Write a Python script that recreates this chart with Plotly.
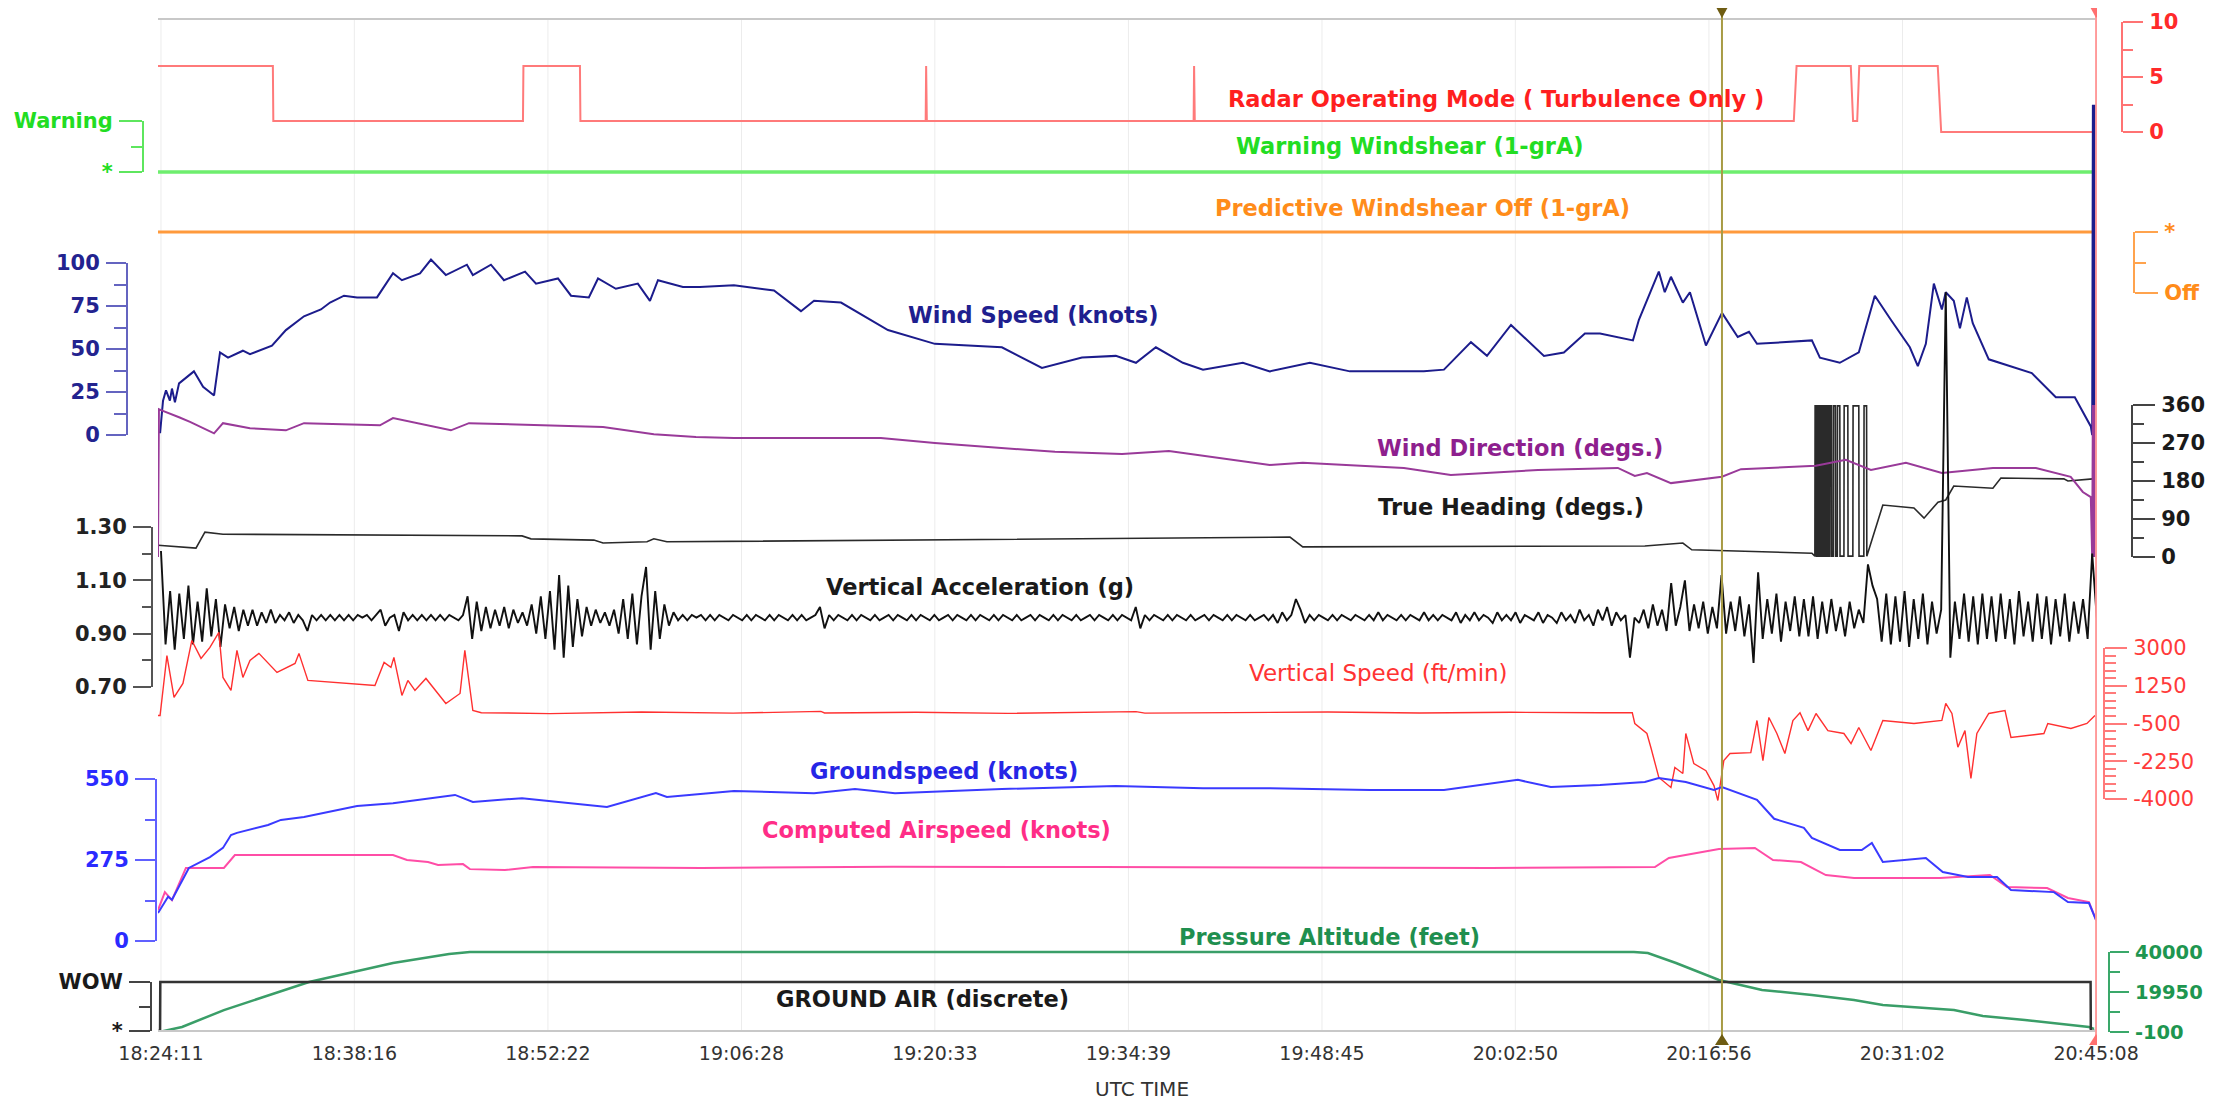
import plotly.graph_objects as go

# ---------------------------------------------------------------- data
START = "18:24:11"
x_tick_labels = ["18:24:11", "18:38:16", "18:52:22", "19:06:28", "19:20:33", "19:34:39",
                 "19:48:45", "20:02:50", "20:16:56", "20:31:02", "20:45:08"]

def hms_to_s(s):
    h, m, sec = map(int, s.split(":"))
    return h * 3600 + m * 60 + sec

x_tick_vals = [hms_to_s(s) - hms_to_s(START) for s in x_tick_labels]
cursor_times = [hms_to_s("20:17:53") - hms_to_s(START), hms_to_s("20:45:08") - hms_to_s(START)]

# x values: seconds elapsed since 18:24:11 (UTC)
radar_t = [-13, 489, 491, 1582, 1584, 1831, 1833, 3342, 3344, 3347, 4513, 4515, 4518,
           7136, 7148, 7385, 7395, 7413, 7422, 7765, 7780, 8444]
radar_v = [6, 6, 1, 1, 6, 6, 1, 1, 6, 1, 1, 6, 1, 1, 6, 6, 1, 1, 6, 6, 0, 0]

warn_t = [-13, 8444]
warn_v = [0, 0]

pws_t = [-13, 8444]
pws_v = [1, 1]

wind_spd_t = [-4, 9, 22, 39, 48, 61, 79, 144, 184, 232, 258, 293, 358, 389, 485, 546, 625, 699, 739,
              800, 857, 944, 1014, 1053, 1132, 1180, 1245, 1337, 1363, 1442, 1499, 1591, 1639, 1735,
              1792, 1870, 1910, 1988, 2084, 2137, 2172, 2281, 2355, 2504, 2679, 2797, 2854, 2972, 3177,
              3382, 3675, 3850, 4025, 4173, 4261, 4348, 4466, 4554, 4728, 4846, 5021, 5196, 5519, 5607,
              5725, 5795, 5900, 6044, 6131, 6223, 6289, 6433, 6459, 6546, 6572, 6599, 6651, 6682, 6752,
              6822, 6891, 6940, 6975, 7215, 7250, 7337, 7420, 7490, 7560, 7643, 7678, 7713, 7748, 7783,
              7800, 7835, 7862, 7892, 7918, 7988, 8176, 8281, 8364, 8434, 8440, 8443, 8446, 8449, 8452,
              8455]
wind_spd = [1, 20, 26, 20, 27, 19, 30, 37, 28, 23, 48, 45, 49, 47, 52, 61, 69, 73, 77,
            81, 80, 80, 94, 90, 94, 102, 93, 99, 93, 99, 90, 95, 88, 91,
            81, 80, 91, 85, 88, 78, 90, 86, 86, 87, 84, 72, 78, 77, 61,
            53, 51, 39, 45, 46, 42, 51, 42, 38, 42, 37, 42, 37, 37, 38,
            54, 46, 64, 46, 48, 59, 59, 55, 67, 95, 83, 92, 77, 83, 52,
            71, 57, 60, 53, 55, 45, 42, 48, 81, 67, 51, 40, 53, 88, 73,
            83, 78, 62, 80, 65, 44, 36, 22, 22, 5, 0, 192, 0, 192, 0,
            192]

wind_dir_t = [-13, -9, 0, 39, 79, 127, 232, 271, 389, 546, 625, 957, 1014, 1267, 1346, 1932, 2154,
              2338, 2504, 3146, 3382, 3907, 4200, 4405, 4846, 4990, 5432, 5637, 6018, 6367, 6441, 6494,
              6599, 6822, 6905, 7232, 7363, 7473, 7626, 7783, 8006, 8194, 8346, 8399, 8434, 8440, 8443,
              8446, 8449, 8452, 8455]
wind_dir = [0, 350, 348, 340, 331, 320, 293, 317, 305, 300, 317, 312, 329, 300, 317, 308, 291,
            284, 282, 282, 270, 249, 244, 251, 218, 223, 211, 194, 206, 211, 192, 199,
            175, 190, 208, 216, 230, 206, 223, 199, 211, 211, 190, 154, 142, 0, 360,
            0, 360, 0, 360]

heading_t = [-13, 153, 192, 271, 1578, 1617, 1892, 1932, 2124, 2154, 2211, 4934, 4990, 6485, 6651,
             6690, 7215,
             7228, 7229, 7233, 7234, 7238, 7239, 7243, 7244, 7248, 7249, 7254, 7255, 7259, 7260,
             7265, 7266, 7270, 7271, 7276, 7277, 7282, 7283, 7288, 7289, 7294, 7295, 7301, 7302,
             7309, 7310, 7318, 7319, 7326, 7327, 7337, 7338, 7355, 7356, 7372, 7373, 7394, 7395,
             7420, 7421, 7442, 7443, 7454, 7455,
             7525, 7661, 7705, 7766, 7800, 7835, 8006, 8041, 8316, 8334, 8443]
heading = [28, 21, 59, 54, 50, 43, 40, 33, 36, 43, 36, 47, 24, 26, 33,
           17, 9,
           2, 358, 358, 2, 2, 358, 358, 2, 2, 358, 358, 2, 2, 358,
           358, 2, 2, 358, 358, 2, 2, 358, 358, 2, 2, 358, 358, 2,
           2, 358, 358, 2, 2, 358, 358, 2, 2, 358, 358, 2, 2, 358,
           358, 2, 2, 358, 358, 2,
           123, 116, 92, 130, 135, 168, 163, 187, 185, 180, 185]

# vertical acceleration, one sample every 20 s
vert_acc_g = [
    1.21, 0.86, 1.06, 0.84, 1.05, 0.88, 1.08, 0.86, 1.02, 0.87, 1.07, 0.89, 1.03, 0.85, 1.01, 0.92, 1.00, 0.91, 0.99, 0.93,
    0.99, 0.93, 0.98, 0.94, 0.99, 0.94, 0.97, 0.95, 0.98, 0.94, 0.97, 0.95, 0.91, 0.97, 0.95, 0.97, 0.95, 0.97, 0.95, 0.97,
    0.95, 0.97, 0.95, 0.97, 0.96, 0.97, 0.95, 0.97, 0.99, 0.93, 0.96, 0.97, 0.91, 0.98, 0.95, 0.97, 0.95, 0.97, 0.95, 0.97,
    0.95, 0.97, 0.95, 0.97, 0.96, 0.95, 0.97, 1.04, 0.88, 1.02, 0.91, 1.00, 0.92, 0.99, 0.93, 1.00, 0.92, 0.99, 0.94, 0.98,
    0.93, 1.01, 0.90, 1.04, 0.88, 1.06, 0.84, 1.12, 0.81, 1.08, 0.85, 1.03, 0.89, 1.00, 0.93, 0.99, 0.94, 0.98, 0.93, 0.99,
    0.90, 1.03, 0.88, 1.05, 0.86, 1.04, 1.15, 0.84, 1.06, 0.88, 1.01, 0.93, 0.98, 0.95, 0.97, 0.95, 0.97, 0.96, 0.97, 0.95,
    0.97, 0.95, 0.97, 0.96, 0.95, 0.97, 0.96, 0.95, 0.97, 0.95, 0.97, 0.96, 0.95, 0.97, 0.95, 0.97, 0.96, 0.95, 0.97, 0.95,
    0.97, 0.95, 0.96, 0.97, 1.00, 0.92, 0.97, 0.95, 0.97, 0.96, 0.95, 0.97, 0.95, 0.97, 0.96, 0.95, 0.97, 0.95, 0.96, 0.97,
    0.95, 0.97, 0.96, 0.95, 0.97, 0.95, 0.97, 0.96, 0.95, 0.97, 0.95, 0.96, 0.97, 0.95, 0.97, 0.96, 0.95, 0.97, 0.95, 0.97,
    0.96, 0.95, 0.97, 0.95, 0.97, 0.96, 0.95, 0.97, 0.95, 0.96, 0.97, 0.95, 0.97, 0.96, 0.95, 0.97, 0.95, 0.97, 0.96, 0.95,
    0.97, 0.95, 0.96, 0.97, 0.95, 0.97, 0.96, 0.95, 0.97, 0.95, 0.97, 0.96, 0.95, 1.00, 0.92, 0.97, 0.95, 0.97, 0.96, 0.95,
    0.97, 0.95, 0.97, 0.96, 0.95, 0.97, 0.95, 0.96, 0.97, 0.95, 0.97, 0.96, 0.95, 0.97, 0.95, 0.97, 0.96, 0.95, 0.97, 0.95,
    0.96, 0.97, 0.95, 0.97, 0.94, 0.98, 0.95, 0.97, 1.03, 0.99, 0.94, 0.97, 0.95, 0.97, 0.96, 0.95, 0.97, 0.95, 0.97, 0.96,
    0.95, 0.97, 0.96, 0.95, 0.97, 0.95, 0.98, 0.95, 0.97, 0.96, 0.95, 0.97, 0.95, 0.97, 0.96, 0.95, 0.98, 0.95, 0.97, 0.95,
    0.97, 0.96, 0.95, 0.98, 0.94, 0.97, 0.95, 0.98, 0.95, 0.97, 0.96, 0.94, 0.98, 0.95, 0.97, 0.95, 0.98, 0.94, 0.97, 0.96,
    0.95, 0.98, 0.94, 0.97, 0.96, 0.94, 0.98, 0.95, 0.97, 0.94, 0.99, 0.95, 0.97, 0.93, 0.99, 0.95, 1.00, 0.93, 0.98, 0.95,
    0.97, 0.81, 0.96, 0.94, 0.99, 0.92, 1.01, 0.93, 0.99, 0.91, 1.09, 0.93, 1.00, 1.10, 0.91, 1.01, 0.92, 1.02, 0.90, 1.00,
    0.92, 1.12, 0.90, 1.02, 0.91, 1.04, 0.89, 1.01, 0.79, 1.13, 0.88, 1.03, 0.90, 1.05, 0.87, 1.02, 0.91, 1.04, 0.89, 1.03,
    0.89, 1.04, 0.88, 1.02, 0.90, 1.03, 0.91, 1.00, 0.89, 1.02, 0.92, 0.99, 0.94, 1.16, 1.08, 1.03, 0.87, 1.05, 0.86, 1.04,
    0.87, 1.06, 0.85, 1.03, 0.88, 1.05, 0.86, 1.02, 0.90, 0.99, 2.18, 0.81, 1.02, 0.88, 1.05, 0.87, 1.04, 0.86, 1.05, 0.88,
    1.04, 0.87, 1.05, 0.88, 1.03, 0.86, 1.06, 0.89, 1.02, 0.87, 1.05, 0.88, 1.04, 0.86, 1.03, 0.89, 1.05, 0.87, 1.02, 0.90,
    1.03, 0.88, 1.20, 0.96,
]
vert_acc_t = [20 * i for i in range(len(vert_acc_g))]

vert_spd_t = [-13, -4, 26, 57, 96, 135, 175, 214, 253, 271, 306, 332, 358, 389, 428, 507, 586, 603, 642,
              935, 975, 1005, 1018, 1053, 1079, 1110, 1158, 1245, 1307, 1328, 1363, 1400, 1700, 2100,
              2500, 2884, 2900, 3300, 3700, 4100, 4261, 4300, 4700, 5100, 5500, 5900, 6300, 6430, 6441,
              6494, 6511, 6546, 6599, 6616, 6651, 6664, 6699, 6752, 6787, 6804, 6830, 6857, 6948, 6975,
              7001, 7027, 7062, 7097, 7132, 7163, 7198, 7233, 7285, 7355, 7386, 7420, 7473, 7525, 7661,
              7783, 7800, 7827, 7853, 7884, 7910, 7936, 7988, 8059, 8085, 8229, 8246, 8347, 8417, 8452]
vert_spd = [-130, -130, 2650, 707, 1357, 3350, 2517, 3028, 3724, 1635, 1032, 2889, 1635, 2424, 2750, 1867,
            2285, 2750, 1496, 1264, 2331, 2100, 2564, 800, 1496, 1032, 1589, 428, 893, 2889, 103, 0, -40,
            30, -20, 60, -10, 20, -30, 10, 50, -20, 0, 30, -10, 20, 0, 0, -500, -964, -1600, -3000,
            -3470, -2540, -2820, -964, -2360, -2690, -3380, -4070, -2220, -1890, -1850, -360, -2220,
            -220, -964, -1890, -360, 0, -830, -36, -830, -964, -1430, -686, -1750, -360, -500, -360,
            428, -36, -1600, -830, -3050, -964, -36, 103, -1150, -964, -500, -730, -500, -129]

gnd_spd_t = [-13, 31, 48, 122, 214, 271, 306, 332, 468, 524, 625, 857, 1014, 1285, 1363, 1578, 1949,
             2163, 2211, 2504, 2854, 3033, 3208, 3675, 4173, 4554, 4846, 5283, 5607, 5930, 6074, 6289,
             6485, 6546, 6664, 6787, 6822, 6975, 7050, 7180, 7215, 7337, 7433, 7477, 7525, 7713, 7787,
             7897, 8024, 8085, 8273, 8334, 8426, 8457]
gnd_spd = [95, 150, 140, 248, 285, 316, 360, 367, 394, 411, 421, 458, 468, 496, 472, 485, 455,
           502, 489, 509, 502, 516, 502, 516, 526, 519, 519, 513, 513, 547, 523, 530,
           540, 553, 540, 513, 523, 479, 415, 384, 350, 309, 309, 333, 268, 282, 234,
           217, 217, 173, 166, 132, 129, 71]

cas_t = [-13, 17, 48, 109, 275, 323, 1014, 1075, 1167, 1211, 1320, 1350, 1503, 1626, 2364, 3200, 4104,
         5000, 5812, 6529, 6590, 6809, 6966, 7045, 7167, 7276, 7399, 7775, 7993, 8068, 8243, 8334,
         8426, 8457]
cas = [105, 166, 139, 248, 248, 292, 292, 275, 268, 258, 261, 244, 241, 251, 248, 252, 251,
       249, 248, 251, 282, 312, 316, 275, 268, 224, 214, 214, 224, 183, 180, 146,
       132, 71]

alt_t = [-4, 92, 275, 647, 1014, 1259, 1350, 6437, 6498, 6621, 6809, 6997, 7215, 7399, 7525, 7836,
         7962, 8146, 8426, 8448]
alt_ft = [0, 2400, 10900, 24960, 34500, 39000, 40000, 40000, 39500, 34500, 26000, 21000, 18400,
          15900, 13400, 10900, 7900, 5900, 2400, 1500]

gnd_air_t = [-13, -4, -3, 8433, 8434, 8461]
gnd_air = [0, 0, 1, 1, 0, 0]

# ---------------------------------------------------------------- geometry / style
# the page body keeps an 8px margin, so the figure is drawn 16px smaller and shifted
OFF = 8
FIG_W, FIG_H = 2216 - 2 * OFF, 1110 - 2 * OFF
PL, PR, PT, PB = 158, 2097, 20, 1030          # plot area in screen pixels
X_RANGE = [-13, 8461]
BG_RANGE = [0, 20]
FONT = "DejaVu Sans"


def fx(px):
    return (px - OFF) / FIG_W


def fy(py):
    return 1 - (py - OFF) / FIG_H


def data_range(lo, ylo, hi, yhi):
    k = (hi - lo) / (ylo - yhi)
    return [lo - (PB - ylo) * k, hi + (yhi - PT) * k]


vs_minor = [v for v in range(-4000, 3001, 350) if v not in (-4000, -2250, -500, 1250, 3000)]

panels = [
    dict(side="right", xpx=2122, lo=0, ylo=132, hi=10, yhi=22, tv=[0, 5, 10], tt=["0", "5", "10"],
         minor=[2.5, 7.5], line="#ff7373", font="#ff2a2a", tl=20, ml=10, w="bold", fs=21),
    dict(side="left", xpx=143, lo=0, ylo=172, hi=1, yhi=121, tv=[0, 1], tt=["*", "Warning"],
         minor=[0.5], line="#5ee65e", font="#22dd22", tl=23, ml=11, w="bold", fs=21),
    dict(side="right", xpx=2134, lo=0, ylo=293, hi=1, yhi=232, tv=[0, 1], tt=["Off", "*"],
         minor=[0.5], line="#ffa34d", font="#ff8c1a", tl=23, ml=11, w="bold", fs=21),
    dict(side="left", xpx=127, lo=0, ylo=435, hi=100, yhi=263, tv=[0, 25, 50, 75, 100],
         tt=["0", "25", "50", "75", "100"], minor=[12.5, 37.5, 62.5, 87.5], line="#6464c0",
         font="#23238f", tl=20, ml=12, w="bold", fs=21),
    dict(side="right", xpx=2132, lo=0, ylo=557, hi=360, yhi=405, tv=[0, 90, 180, 270, 360],
         tt=["0", "90", "180", "270", "360"], minor=[45, 135, 225, 315], line="#444444",
         font="#1a1a1a", tl=22, ml=11, w="bold", fs=21),
    dict(side="left", xpx=152, lo=0.70, ylo=687, hi=1.30, yhi=527, tv=[0.7, 0.9, 1.1, 1.3],
         tt=["0.70", "0.90", "1.10", "1.30"], minor=[0.8, 1.0, 1.2], line="#555555",
         font="#222222", tl=18, ml=9, w="bold", fs=21),
    dict(side="right", xpx=2104, lo=-4000, ylo=799, hi=3000, yhi=648,
         tv=[-4000, -2250, -500, 1250, 3000], tt=["-4000", "-2250", "-500", "1250", "3000"],
         minor=vs_minor, line="#ff7a7a", font="#ff3b3b", tl=22, ml=11, w="normal", fs=21),
    dict(side="left", xpx=156, lo=0, ylo=941, hi=550, yhi=779, tv=[0, 275, 550],
         tt=["0", "275", "550"], minor=[137.5, 412.5], line="#6060ff", font="#2b2bff",
         tl=20, ml=10, w="bold", fs=21),
    dict(side="right", xpx=2109, lo=-100, ylo=1032, hi=40000, yhi=952, tv=[-100, 19950, 40000],
         tt=["-100", "19950", "40000"], minor=[9925, 29975], line="#3aa86a", font="#1e9650",
         tl=19, ml=10, w="bold", fs=19.5),
    dict(side="left", xpx=151, lo=0, ylo=1031, hi=1, yhi=982, tv=[0, 1], tt=["*", "WOW"],
         minor=[0.5], line="#444444", font="#1a1a1a", tl=21, ml=11, w="bold", fs=21),
]

# traces: (panel index, x, y, colour, width)
series = [
    (1, warn_t, warn_v, "#6eee6e", 3.5),
    (2, pws_t, pws_v, "#ff9a3c", 3),
    (0, radar_t, radar_v, "#ff7a7a", 2),
    (3, wind_spd_t, wind_spd, "#1c1c8c", 2),
    (4, heading_t, heading, "#2a2a2a", 1.6),
    (4, wind_dir_t, wind_dir, "#993a99", 2),
    (5, vert_acc_t, vert_acc_g, "#111111", 1.9),
    (6, vert_spd_t, vert_spd, "#ff3030", 1.4),
    (8, alt_t, alt_ft, "#3a9e68", 2.5),
    (9, gnd_air_t, gnd_air, "#333333", 2.5),
    (7, cas_t, cas, "#ff4da6", 2),
    (7, gnd_spd_t, gnd_spd, "#3a3aff", 2),
]

PLOT_DOMAIN = [fy(PB), fy(PT)]
fig = go.Figure()
layout = dict(
    template="none",
    width=FIG_W, height=FIG_H, autosize=False,
    margin=dict(l=0, r=0, t=0, b=0, pad=0, autoexpand=False),
    paper_bgcolor="white", plot_bgcolor="rgba(0,0,0,0)",
    showlegend=False,
    xaxis=dict(domain=[fx(PL), fx(PR)], range=X_RANGE, anchor="y", tickmode="array",
               tickvals=x_tick_vals, ticktext=x_tick_labels, showgrid=False, zeroline=False,
               showline=True, mirror=True, linecolor="#c8c8c8", linewidth=2, ticks="",
               ticklabelstandoff=5, tickfont=dict(family=FONT, size=19, color="#333333"),
               fixedrange=True, automargin=False),
    yaxis=dict(domain=PLOT_DOMAIN, range=BG_RANGE, tickmode="linear", tick0=0, dtick=1,
               showgrid=True, gridcolor="#ececec", gridwidth=1, showticklabels=False, ticks="",
               showline=True, linecolor="#c8c8c8", linewidth=2, zeroline=False, fixedrange=True,
               automargin=False),
)

n = len(panels)
for i, p in enumerate(panels):
    data_ax = 2 + i
    deco_ax = 2 + n + i
    layout[f"yaxis{data_ax}"] = dict(domain=PLOT_DOMAIN, anchor="x", visible=False,
                                     range=data_range(p["lo"], p["ylo"], p["hi"], p["yhi"]),
                                     fixedrange=True, automargin=False, showgrid=False,
                                     zeroline=False)
    layout[f"yaxis{deco_ax}"] = dict(
        domain=[fy(p["ylo"]), fy(p["yhi"])], range=[p["lo"], p["hi"]], anchor="free",
        position=fx(p["xpx"]), side=p["side"], showline=True, linecolor=p["line"], linewidth=2,
        ticks="outside", ticklen=p["tl"], tickwidth=2, tickcolor=p["line"], tickmode="array",
        tickvals=p["tv"], ticktext=p["tt"], ticklabelstandoff=2,
        tickfont=dict(family=FONT, size=p["fs"], color=p["font"], weight=p["w"]),
        minor=dict(tickmode="array", tickvals=p["minor"], ticks="outside", ticklen=p["ml"],
                   tickwidth=2, tickcolor=p["line"], showgrid=False),
        showgrid=False, zeroline=False, automargin=False, fixedrange=True)
    fig.add_trace(go.Scatter(x=[None], y=[None], xaxis="x", yaxis=f"y{deco_ax}",
                             mode="lines", showlegend=False, hoverinfo="skip"))

for idx, xs, ys, col, wdt in series:
    fig.add_trace(go.Scatter(x=xs, y=ys, xaxis="x", yaxis=f"y{2 + idx}", mode="lines",
                             line=dict(color=col, width=wdt), showlegend=False, hoverinfo="skip"))

# grid lines for time ticks (below data), cursor lines and their end triangles
shapes = []
for tv in x_tick_vals:
    shapes.append(dict(type="line", layer="below", xref="x", yref="paper", x0=tv, x1=tv,
                       y0=fy(PB), y1=fy(PT), line=dict(color="#ececec", width=1)))
cursor_cols = ["#a89b45", "#ff9a9a"]
cursor_marks = ["#6e5c12", "#ff7070"]
for tc, col, mk in zip(cursor_times, cursor_cols, cursor_marks):
    shapes.append(dict(type="line", layer="above", xref="x", yref="paper", x0=tc, x1=tc,
                       y0=fy(1038), y1=fy(12), line=dict(color=col, width=2)))
    # downward triangle at the top, upward triangle at the bottom (pixel-sized)
    shapes.append(dict(type="path", layer="above", xref="x", xsizemode="pixel", xanchor=tc,
                       yref="paper", ysizemode="pixel", yanchor=fy(12),
                       path="M -6,5 L 6,5 L 0,-6 Z", fillcolor=mk, line=dict(width=0)))
    shapes.append(dict(type="path", layer="above", xref="x", xsizemode="pixel", xanchor=tc,
                       yref="paper", ysizemode="pixel", yanchor=fy(1040),
                       path="M -7,-5 L 7,-5 L 0,6 Z", fillcolor=mk, line=dict(width=0)))
layout["shapes"] = shapes

labels = [
    ("Radar Operating Mode ( Turbulence Only )", 1496, 99, "#ff1f1f", "bold", 22.5),
    ("Warning Windshear (1-grA)", 1410, 146, "#22dd22", "bold", 22.5),
    ("Predictive Windshear Off (1-grA)", 1422, 208, "#ff8c1a", "bold", 22.5),
    ("Wind Speed (knots)", 1033, 315, "#1f1f8f", "bold", 22.5),
    ("Wind Direction (degs.)", 1520, 448, "#8e1f8e", "bold", 22.5),
    ("True Heading (degs.)", 1511, 507, "#1a1a1a", "bold", 22.5),
    ("Vertical Acceleration (g)", 980, 587, "#1a1a1a", "bold", 22.5),
    ("Vertical Speed (ft/min)", 1378, 673, "#ff3333", "normal", 23),
    ("Groundspeed (knots)", 944, 771, "#2626e6", "bold", 22.5),
    ("Computed Airspeed (knots)", 936, 830, "#ff2d87", "bold", 22.5),
    ("Pressure Altitude (feet)", 1329, 937, "#1f8f4f", "bold", 22.5),
    ("GROUND AIR (discrete)", 922, 999, "#1a1a1a", "bold", 22.5),
]
ann = []
for txt, cx, cy, col, wt, fs in labels:
    ann.append(dict(text=txt, x=fx(cx), y=fy(cy), xref="paper", yref="paper", showarrow=False,
                    xanchor="center", yanchor="middle",
                    font=dict(family=FONT, size=fs, color=col, weight=wt)))
ann.append(dict(text="UTC TIME", x=fx(1142), y=fy(1089), xref="paper", yref="paper",
                showarrow=False, xanchor="center", yanchor="middle",
                font=dict(family=FONT, size=20, color="#333333")))
layout["annotations"] = ann

fig.update_layout(**layout)
fig.write_html("out.html")
